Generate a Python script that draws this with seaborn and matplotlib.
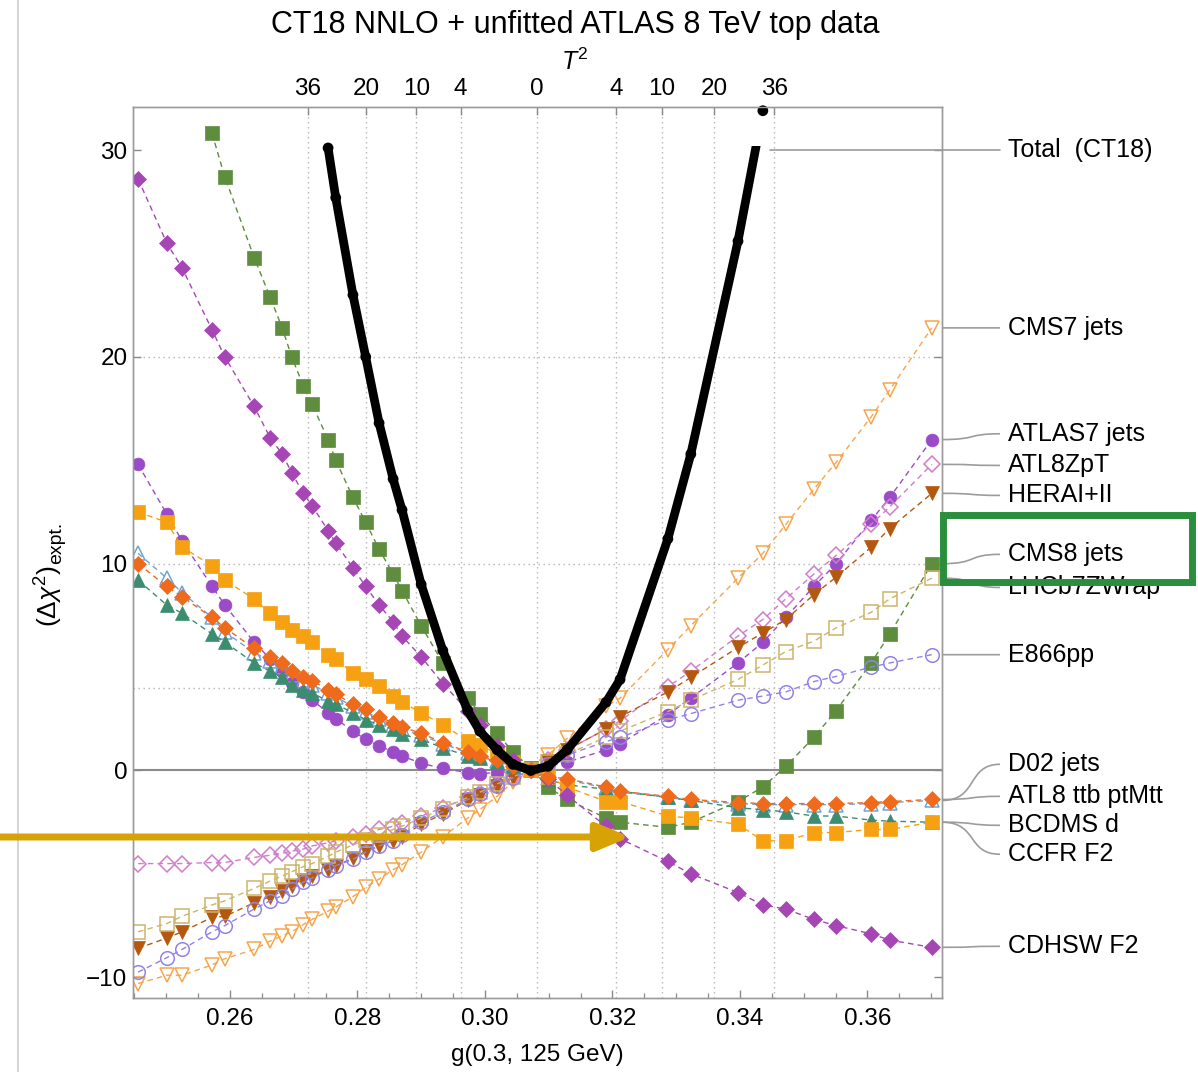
import numpy as np
import pandas as pd
import matplotlib
matplotlib.use("Agg")
import matplotlib.pyplot as plt
import seaborn as sns
from matplotlib.path import Path
from matplotlib.patches import PathPatch, Rectangle, FancyArrowPatch
from matplotlib.lines import Line2D
from matplotlib.ticker import MultipleLocator, FormatStrFormatter
import matplotlib.transforms as mtransforms

nan = np.nan

# ---------------- data ----------------
g_scan = [0.2456, 0.2501, 0.2525, 0.2572, 0.2592, 0.2638, 0.2663, 0.2682, 0.2697,
          0.2715, 0.2729, 0.2754, 0.2766, 0.2793, 0.2813, 0.2834, 0.2856, 0.2870,
          0.2900, 0.2934, 0.2973, 0.2992, 0.3019, 0.3044, 0.3072, 0.3099, 0.3129,
          0.3190, 0.3212, 0.3287, 0.3323, 0.3397, 0.3436, 0.3472, 0.3516, 0.3551,
          0.3606, 0.3635, 0.3701]

cms7_jets = [-10.3, -9.9, -9.9, -9.4, -9.1, -8.65, -8.25, -8.0, -7.8, -7.45, -7.2, -6.8,
             -6.6, -6.1, -5.65, -5.25, -4.8, -4.55, -3.95, -3.2, -2.3, -1.9, -1.25, -0.55,
             0.0, 0.75, 1.55, 3.1, 3.5, 5.85, 7.0, 9.3, 10.5, 11.9, 13.6, 14.9, 17.1, 18.4, 21.4]
atlas7_jets = [14.8, 12.4, 11.1, 8.9, 8.0, 6.2, 5.4, 4.8, 4.25, 3.8, 3.4, 2.8, 2.5, 1.9,
               1.5, 1.2, 0.9, 0.7, 0.35, 0.1, -0.1, -0.15, -0.1, -0.05, 0.0, 0.2, 0.4, 1.0,
               1.3, 2.7, 3.5, 5.2, 6.2, 7.4, 8.9, 10.0, 12.1, 13.2, 16.0]
atl8zpt = [-4.5, -4.5, -4.5, -4.45, -4.45, -4.2, -4.1, -4.0, -3.9, -3.8, -3.65, -3.5, -3.4,
           -3.2, -3.05, -2.85, -2.7, -2.55, -2.2, -1.8, -1.3, -1.1, -0.7, -0.35, 0.0, 0.5,
           1.0, 2.0, 2.4, 4.05, 4.8, 6.5, 7.3, 8.3, 9.5, 10.4, 11.9, 12.75, 14.8]
hera_1_2 = [-8.6, -8.1, -7.8, -7.1, -7.05, -6.4, -6.1, -5.85, -5.6, -5.3, -5.1, -4.8, -4.6,
            -4.25, -3.9, -3.65, -3.4, -3.2, -2.6, -2.1, -1.45, -1.2, -0.75, -0.35, 0.0, 0.45,
            1.0, 2.0, 2.6, 3.8, 4.5, 5.95, 6.65, 7.3, 8.5, 9.35, 10.8, 11.7, 13.4]
cms8_jets = [nan, nan, nan, 30.8, 28.7, 24.8, 22.9, 21.4, 20.0, 18.6, 17.7, 16.0, 15.0,
             13.2, 12.0, 10.7, 9.5, 8.7, 7.0, 5.2, 3.5, 2.75, 1.8, 0.9, 0.1, -0.8, -1.4,
             -2.3, -2.5, -2.75, -2.5, -1.5, -0.8, 0.2, 1.6, 2.9, 5.2, 6.6, 10.0]
lhcb7_zwrap = [-7.8, -7.4, -7.05, -6.5, -6.3, -5.7, -5.35, -5.1, -4.9, -4.65, -4.5, -4.15,
               -3.95, -3.6, -3.35, -3.1, -2.85, -2.7, -2.3, -1.85, -1.3, -1.05, -0.65, -0.3,
               0.0, 0.4, 0.8, 1.6, 1.9, 2.85, 3.4, 4.4, 5.1, 5.75, 6.25, 6.9, 7.65, 8.3, 9.3]
e866pp = [-9.75, -9.05, -8.65, -7.8, -7.5, -6.7, -6.3, -6.05, -5.75, -5.4, -5.2, -4.8, -4.6,
          -4.3, -3.95, -3.65, -3.4, -3.1, -2.5, -2.0, -1.4, -1.15, -0.75, -0.35, 0.0, 0.3,
          0.75, 1.4, 1.6, 2.45, 2.75, 3.4, 3.6, 3.8, 4.3, 4.55, 5.0, 5.2, 5.6]
d02_jets = [10.5, 9.3, 8.6, 7.4, 6.7, 5.7, 5.3, 5.0, 4.6, 4.35, 4.15, 3.75, 3.55, 3.1, 2.85,
            2.5, 2.2, 2.0, 1.7, 1.3, 0.85, 0.65, 0.45, 0.2, 0.0, -0.35, -0.45, -0.85, -1.05,
            -1.3, -1.45, -1.6, -1.65, -1.65, -1.65, -1.65, -1.6, -1.55, -1.45]
atl8_ttb = [10.0, 8.9, 8.4, 7.4, 6.9, 5.9, 5.5, 5.2, 4.8, 4.5, 4.35, 3.9, 3.7, 3.2, 2.95, 2.6,
            2.3, 2.1, 1.8, 1.35, 0.9, 0.7, 0.5, 0.2, 0.0, -0.3, -0.4, -0.8, -1.0, -1.25, -1.4,
            -1.55, -1.6, -1.6, -1.6, -1.6, -1.55, -1.5, -1.4]
bcdms_d = [9.2, 8.0, 7.6, 6.6, 6.2, 5.2, 4.8, 4.5, 4.15, 3.9, 3.75, 3.35, 3.2, 2.8, 2.45, 2.2,
           2.0, 1.75, 1.5, 1.1, 0.7, 0.6, 0.4, 0.2, 0.0, -0.45, -0.7, -0.9, -1.0, -1.3, -1.45,
           -1.8, -1.9, -2.0, -2.2, -2.2, -2.4, -2.45, -2.5]
ccfr_f2 = [12.5, 12.0, 10.8, 9.9, 9.2, 8.3, 7.6, 7.2, 6.8, 6.5, 6.2, 5.6, 5.4, 4.7, 4.4, 4.1,
           3.6, 3.3, 2.8, 2.2, 1.45, 1.25, 0.8, 0.4, 0.0, -0.3, -0.8, -1.5, -1.5, -2.2, -2.3,
           -2.6, -3.4, -3.4, -3.0, -3.0, -2.85, -2.85, -2.5]
cdhsw_f2 = [28.6, 25.5, 24.3, 21.3, 20.0, 17.6, 16.1, 15.3, 14.4, 13.4, 12.8, 11.6, 11.0, 9.8,
            8.9, 8.0, 7.2, 6.5, 5.5, 4.2, 2.9, 2.2, 1.2, 0.5, 0.0, -0.4, -1.2, -2.7, -3.3, -4.4,
            -5.0, -5.9, -6.5, -6.7, -7.2, -7.5, -7.9, -8.2, -8.55]

total_g = [0.2754, 0.2766, 0.2793, 0.2813, 0.2834, 0.2856, 0.2870, 0.2900, 0.2934, 0.2973,
           0.2992, 0.3019, 0.3044, 0.3072, 0.3099, 0.3129, 0.3190, 0.3212, 0.3287, 0.3323,
           0.3397, 0.3436]
total_chi2 = [30.1, 27.7, 23.0, 20.0, 16.8, 14.1, 12.6, 9.0, 5.8, 2.9, 1.9, 1.0, 0.3, 0.0,
              0.2, 1.0, 3.3, 4.4, 11.2, 15.3, 25.6, 31.9]

t2_labels = ["36", "20", "10", "4", "0", "4", "10", "20", "36"]
t2_values = [36, 20, 10, 4, 0, 4, 10, 20, 36]
t2_sides = [-1, -1, -1, -1, 0, 1, 1, 1, 1]

title = "CT18 NNLO + unfitted ATLAS 8 TeV top data"

# ---------------- style ----------------
sns.set_theme(style="white")
plt.rcParams["font.family"] = ["Liberation Sans", "DejaVu Sans"]
plt.rcParams["mathtext.fontset"] = "custom"
plt.rcParams["mathtext.rm"] = "Liberation Sans"
plt.rcParams["mathtext.it"] = "Liberation Sans:italic"
plt.rcParams["mathtext.bf"] = "Liberation Sans:bold"
plt.rcParams["text.color"] = "black"
plt.rcParams["axes.labelcolor"] = "black"
plt.rcParams["xtick.labelcolor"] = "black"
plt.rcParams["ytick.labelcolor"] = "black"

W, H = 1198, 1072
fig = plt.figure(figsize=(W / 100, H / 100), dpi=100)
ax = fig.add_axes([133 / W, 1 - 998 / H, 809 / W, 891 / H])
ax.set_xlim(0.2448, 0.3717)
ax.set_ylim(-11.0, 32.08)

dash = (0, (4, 3))
# name, values, color, marker, filled, markersize, label y, zorder
series = [
    ("CMS7 jets", cms7_jets, "#F7A54C", "v", False, 10.0, 21.4, 3),
    ("ATLAS7 jets", atlas7_jets, "#9A4CC8", "o", True, 9.2, 16.28, 3),
    ("ATL8ZpT", atl8zpt, "#D27CCB", "D", False, 8.0, 14.75, 3),
    ("HERAI+II", hera_1_2, "#B5580F", "v", True, 10.0, 13.3, 3),
    ("CMS8 jets", cms8_jets, "#5E8D3E", "s", True, 10.0, 10.45, 3),
    ("LHCb7ZWrap", lhcb7_zwrap, "#CDB468", "s", False, 9.5, 8.85, 3),
    ("E866pp", e866pp, "#9283E6", "o", False, 9.8, 5.6, 3),
    ("D02 jets", d02_jets, "#71A3D6", "^", False, 10.0, 0.3, 3),
    ("ATL8 ttb ptMtt", atl8_ttb, "#F06A1C", "D", True, 8.0, -1.25, 4),
    ("BCDMS d", bcdms_d, "#3C8D70", "^", True, 10.0, -2.65, 3),
    ("CCFR F2", ccfr_f2, "#F5A112", "s", True, 10.0, -4.05, 3),
    ("CDHSW F2", cdhsw_f2, "#A646B5", "D", True, 8.0, -8.5, 3),
]

# grid lines
g0, sig_l, sig_r = 0.3082, 0.0060, 0.0062
t2_pos = [g0 + s * (sig_l if s < 0 else sig_r) * np.sqrt(v) for s, v in zip(t2_sides, t2_values)]
for yv in [4, 10, 20]:
    ax.axhline(yv, color="#b5b5b5", lw=1.0, ls=(0, (1, 2.6)), zorder=0.5)
for xv in t2_pos:
    ax.axvline(xv, color="#b5b5b5", lw=1.0, ls=(0, (1, 2.6)), zorder=0.5)
ax.axhline(0, color="#8a8a8a", lw=1.5, zorder=0.6)

for name, vals, color, marker, filled, ms, ly, zo in series:
    df = pd.DataFrame({"g": g_scan, "chi2": vals}).dropna()
    sns.lineplot(data=df, x="g", y="chi2", ax=ax, color=color, lw=1.0, linestyle=dash,
                 marker=marker, markersize=ms,
                 markerfacecolor=color if filled else "none",
                 markeredgecolor=color, markeredgewidth=1.1 if not filled else 0.5,
                 sort=False, estimator=None, legend=False, zorder=zo)

# total curve
tdf = pd.DataFrame({"g": total_g, "chi2": total_chi2})
sns.lineplot(data=tdf, x="g", y="chi2", ax=ax, color="black", lw=6.3, sort=False,
             estimator=None, legend=False, zorder=6)
tline = ax.lines[-1]
clip = Rectangle((0.2, -20), 0.3, 50.2, transform=ax.transData)
tline.set_clip_path(clip)
sns.scatterplot(data=tdf, x="g", y="chi2", ax=ax, color="black", s=60, edgecolor="none",
                zorder=7, clip_on=False, legend=False)

# axes cosmetics
ax.set_xlabel("")
ax.set_ylabel("")
ax.xaxis.set_major_locator(MultipleLocator(0.02))
ax.xaxis.set_minor_locator(MultipleLocator(0.005))
ax.xaxis.set_major_formatter(FormatStrFormatter("%.2f"))
ax.yaxis.set_major_locator(MultipleLocator(10))
ax.yaxis.set_minor_locator(MultipleLocator(2))
ax.tick_params(which="both", direction="in", top=False, right=True, bottom=True, left=True,
               color="#8a8a8a", labelcolor="black")
ax.tick_params(which="major", length=6, width=1, labelsize=17.5)
ax.tick_params(which="minor", length=3.5, width=0.9)
ax.tick_params(axis="x", which="major", pad=7)
ax.tick_params(axis="y", which="major", pad=4)
for sp in ax.spines.values():
    sp.set_color("#9a9a9a")
    sp.set_linewidth(1.0)

axt = ax.twiny()
axt.set_xlim(ax.get_xlim())
axt.set_xticks(t2_pos)
axt.set_xticklabels(t2_labels)
axt.minorticks_off()
axt.tick_params(axis="x", direction="in", length=6, width=1, labelsize=17.5, pad=5,
                color="#8a8a8a", labelcolor="black")
for sp in axt.spines.values():
    sp.set_color("#9a9a9a")
    sp.set_linewidth(1.0)

# right-hand labels with leader lines
btr = mtransforms.blended_transform_factory(ax.transAxes, ax.transData)
x_text = (1008 - 133) / 809
x_end = (1000 - 133) / 809
for name, vals, color, marker, filled, ms, ly, zo in series:
    y0 = [v for v in vals if not np.isnan(v)][-1]
    verts = [(1.0, y0), (1.045, y0), (1.03, ly), (x_end, ly)]
    codes = [Path.MOVETO, Path.CURVE4, Path.CURVE4, Path.CURVE4]
    ax.add_patch(PathPatch(Path(verts, codes), transform=btr, fill=False,
                           ec="#9c9c9c", lw=1.2, clip_on=False))
    ax.text(x_text, ly, name, transform=btr, ha="left", va="center", fontsize=18,
            clip_on=False)
ax.plot([(770 - 133) / 809, x_end], [30.0, 30.0], transform=btr, color="#9c9c9c",
        lw=1.2, clip_on=False, zorder=8)
ax.text(x_text, 30.0, "Total  (CT18)", transform=btr, ha="left", va="center",
        fontsize=18, clip_on=False)

# titles / axis labels
fig.text(575 / W, 1 - 25 / H, title, ha="center", va="center", fontsize=22)
fig.text(575 / W, 1 - 62 / H, r"$T^2$", ha="center", va="center", fontsize=18)
fig.text(537 / W, 1 - 1055 / H, "g(0.3, 125 GeV)", ha="center", va="center", fontsize=17.5)
fig.text(49 / W, 1 - 596 / H, r"$(\Delta\chi^2)$", ha="center", va="center",
         fontsize=19, rotation=90)
fig.text(57 / W, 1 - 543 / H, "expt.", ha="center", va="center", fontsize=14, rotation=90)

# screenshot border line
fig.add_artist(Line2D([18 / W, 18 / W], [0, 1], color="#d6d6d6", lw=1.5))

# highlight box and arrow
fig.add_artist(Rectangle((943 / W, 1 - 582 / H), 249 / W, 67 / H, transform=fig.transFigure,
                         fill=False, ec="#2A8F3C", lw=5, zorder=20))
arrow = FancyArrowPatch((0, (H - 837) / 100), (6.30, (H - 837) / 100),
                        transform=fig.dpi_scale_trans,
                        arrowstyle="-|>,head_length=1.0,head_width=0.42",
                        mutation_scale=20, color="#D6A205", lw=5,
                        shrinkA=0, shrinkB=0, zorder=21)
fig.add_artist(arrow)

fig.savefig("out.png", dpi=100)
